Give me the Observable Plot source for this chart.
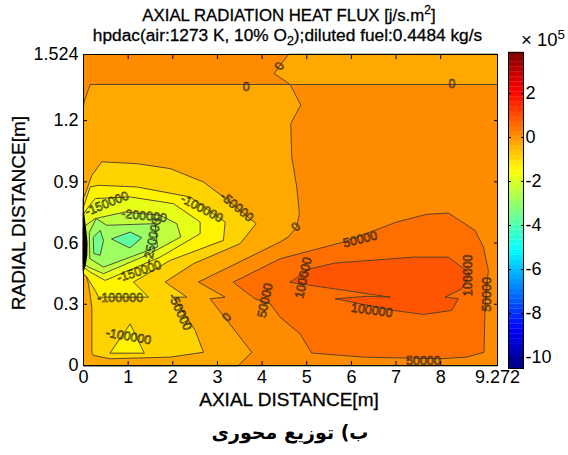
<!DOCTYPE html>
<html>
<head>
<meta charset="utf-8">
<script src="https://cdn.jsdelivr.net/npm/d3@7"></script>
<script src="https://cdn.jsdelivr.net/npm/@observablehq/plot@0.6"></script>
<style>
html,body{margin:0;padding:0;background:#fff;width:568px;height:455px;overflow:hidden}
#root{position:relative;width:568px;height:455px;font-family:"Liberation Sans",Arial,sans-serif;color:#000}
.t{position:absolute;white-space:nowrap;-webkit-text-stroke:.3px #000;line-height:1}
.t sup,.t sub{font-size:.72em;line-height:0}
#main,#bar{position:absolute}
#main{left:0;top:0}
#bar{left:507px;top:40px}
svg{display:block;background:transparent}
</style>
</head>
<body>
<div id="root">
  <div id="main"></div>
  <div id="bar"></div>
  <div class="t" style="left:0;width:578px;text-align:center;top:8px;font-size:16.8px">AXIAL RADIATION HEAT FLUX [j/s.m<sup>2</sup>]</div>
  <div class="t" style="left:0;width:575px;text-align:center;top:27px;font-size:17.3px">hpdac(air:1273 K, 10% O<sub>2</sub>);diluted fuel:0.4484 kg/s</div>
  <div class="t" style="left:521px;top:31px;font-size:18.5px;-webkit-text-stroke:0">× 10<sup>5</sup></div>
  <div class="t" style="left:289px;top:399px;font-size:19px;transform:translate(-50%,-50%)">AXIAL DISTANCE[m]</div>
  <div class="t" style="left:18px;top:213px;font-size:19px;transform:translate(-50%,-50%) rotate(-90deg)">RADIAL DISTANCE[m]</div>
  <div style="position:absolute;left:0;width:580px;text-align:center;top:421px;font:bold 19px 'DejaVu Sans';direction:rtl">ب) توزیع محوری</div>
</div>
<script>
// Axis ticks
const xTicks = [0, 1, 2, 3, 4, 5, 6, 7, 8, 9.272];
const yTicks = [0, 0.3, 0.6, 0.9, 1.2, 1.524];
const barTicks = [2, 0, -2, -4, -6, -8, -10];

// Colour range of the flux, in units of 10^5
const fluxMin = -10.5, fluxMax = 3.86;
const jetFractions = [0, 0.125, 0.375, 0.625, 0.875, 1];
const jetColors = ["#00007f", "#0000ff", "#00ffff", "#ffff00", "#ff0000", "#7f0000"];

// Contour bands: [axial m, radial m]
const bandTopRight = [[4.59,1.524],[4.269,1.431],[4.627,1.377],[9.272,1.377],[9.272,1.524]];
const bandMain = [[0,0],[0,1.267],[0.015,1.292],[0.149,1.377],[4.627,1.377],[4.866,1.276],[4.642,1.186],[4.664,1.022],[4.776,0.875],[4.836,0.744],[4.776,0.679],[4.59,0.63],[4.403,0.605],[2.575,0.409],[3.172,0.335],[2.836,0.327],[3.769,0.065],[3.47,0]];
const bandM100 = [[0,0.826],[0.015,0.826],[0.187,0.932],[0.41,0.998],[1.194,0.989],[1.94,0.965],[2.687,0.899],[3.134,0.826],[3.866,0.695],[3.507,0.597],[2.463,0.499],[1.828,0.409],[2.313,0.335],[2.015,0.335],[2.5,0.172],[2.687,0.065],[1.94,0.041],[0.597,0.033],[0.224,0.049],[0.187,0.065],[0.187,0.286],[0.112,0.401],[0.015,0.466],[0,0.466]];
const bandM150 = [[0,0.777],[0.075,0.826],[0.149,0.875],[0.336,0.883],[1.194,0.875],[2.388,0.826],[3.172,0.703],[3.134,0.613],[1.94,0.515],[1.119,0.409],[1.455,0.335],[0.336,0.335],[0.261,0.368],[0.075,0.433],[0,0.45]];
const bandM150b = [[0.597,0.062],[1.045,0.204],[1.358,0.062]];
const bandM200 = [[0,0.744],[0.112,0.777],[0.261,0.818],[1.045,0.826],[2.015,0.793],[2.612,0.703],[2.612,0.646],[1.716,0.531],[0.485,0.417],[0.149,0.458],[0,0.482]];
const bandM250 = [[0,0.679],[0.261,0.72],[0.933,0.752],[1.716,0.736],[2.09,0.695],[2.179,0.63],[1.493,0.548],[0.448,0.45],[0.112,0.482],[0,0.499]];
const bandM300 = [[0.134,0.654],[0.284,0.72],[0.522,0.687],[1.604,0.695],[1.657,0.581],[0.448,0.482],[0.149,0.523]];
const bandM350a = [[0.224,0.63],[0.373,0.662],[0.448,0.613],[0.373,0.54],[0.239,0.548]];
const bandM350b = [[0.634,0.621],[1.045,0.654],[1.306,0.626],[1.045,0.577]];
const bandP100 = [[3.358,0.409],[4.403,0.523],[5.821,0.605],[7.015,0.703],[7.687,0.741],[8.172,0.747],[8.769,0.662],[8.955,0.581],[9.067,0.466],[8.993,0.286],[8.97,0.065],[8.582,0.041],[7.985,0.033],[6.269,0.041],[5.112,0.061],[4.851,0.155],[4.403,0.237],[4.179,0.303],[3.843,0.327]];
const bandP150 = [[4.627,0.409],[5.075,0.474],[5.634,0.502],[7.388,0.531],[8.172,0.531],[8.657,0.45],[8.47,0.376],[8.097,0.335],[8.396,0.327],[8.246,0.27],[7.612,0.25],[6.94,0.27],[5.634,0.327],[6.343,0.339],[6.866,0.335]];
const wallPacked = [[0,0.78],[0.03,0.72],[0.075,0.64],[0.09,0.6],[0.085,0.54],[0.05,0.49],[0,0.46]];

// Flux shown by each band, in units of 10^5
const fullPlot = [[0,0],[0,1.524],[9.272,1.524],[9.272,0]];
const bandLevels = [
  [fullPlot, 0.1],
  [bandTopRight, -0.3], [bandMain, -0.3],
  [bandM100, -0.9], [bandM150, -1.35], [bandM150b, -1.35],
  [bandM200, -1.85], [bandM250, -2.4], [bandM300, -2.9],
  [bandM350a, -3.5], [bandM350b, -3.8],
  [bandP100, 0.5], [bandP150, 0.87]
];

// Contour labels
const labelTexts = ["0","0","0","0","0","-50000","-100000","-150000","-200000","-250000","-150000","-100000","-100000","-50000","50000","50000","100000","100000","100000","50000","50000"];
const labelX = [3.642,8.254,4.388,4.754,3.209,3.433,2.649,0.522,1.358,1.545,1.246,0.821,1.007,2.164,4.067,6.194,4.925,6.455,8.619,9.045,7.612];
const labelY = [1.365,1.377,1.467,0.679,0.237,0.777,0.769,0.793,0.733,0.613,0.461,0.332,0.142,0.262,0.319,0.618,0.43,0.27,0.442,0.348,0.02];
const labelAngle = [0,0,-60,-45,-45,40,28,-22,6,-78,-18,0,10,65,-78,-14,-78,8,-90,-90,0];
const labels = labelTexts.map((text, i) => ({text, x: labelX[i], y: labelY[i], angle: labelAngle[i]}));

const color = {
  type: "linear",
  domain: jetFractions.map(f => fluxMin + f * (fluxMax - fluxMin)),
  range: jetColors,
  interpolate: "rgb"
};

const contourStroke = "#4a3c30";
const blank = () => "";

const main = Plot.plot({
  width: 568, height: 455,
  marginLeft: 83, marginRight: 71, marginTop: 54, marginBottom: 90,
  style: {fontFamily: "'Liberation Sans',Arial,sans-serif", color: "#000", background: "transparent", overflow: "visible"},
  x: {domain: [0, 9.272]},
  y: {domain: [0, 1.524]},
  color,
  marks: [
    ...bandLevels.map(([pts, level]) => Plot.line(pts, {
      x: d => d[0], y: d => d[1], fill: () => level, z: null,
      stroke: contourStroke, strokeWidth: 0.9, curve: "linear-closed"
    })),
    Plot.line(wallPacked, {x: d => d[0], y: d => d[1], fill: "#000", stroke: "none", curve: "linear-closed"}),
    Plot.text(labels, {
      x: "x", y: "y", text: "text", rotate: "angle",
      fontSize: 12.5, fill: "none", stroke: "#2a1e14", strokeWidth: 0.6
    }),
    Plot.frame({stroke: "#000", strokeWidth: 1}),
    Plot.axisX({
      ticks: xTicks, tickFormat: d => String(d), tickSize: -4, tickPadding: 9,
      fontSize: 18, label: null
    }),
    Plot.axisX({anchor: "top", ticks: xTicks, tickFormat: blank, tickSize: -4, label: null}),
    Plot.axisY({
      ticks: yTicks, tickFormat: d => String(d), tickSize: -4, tickPadding: 9,
      fontSize: 18, label: null
    }),
    Plot.axisY({anchor: "right", ticks: yTicks, tickFormat: blank, tickSize: -4, label: null})
  ]
});
document.getElementById("main").append(main);

// Colour bar ramp
const rampStep = (fluxMax - fluxMin) / 64;
const ramp = d3.range(64).map(i => fluxMin + i * rampStep);

const bar = Plot.plot({
  width: 61, height: 340,
  marginLeft: 1, marginRight: 45, marginTop: 12, marginBottom: 12,
  style: {fontFamily: "'Liberation Sans',Arial,sans-serif", color: "#000", background: "transparent", overflow: "visible"},
  x: {domain: [0, 1], axis: null},
  y: {domain: [fluxMin, fluxMax], axis: null},
  color,
  marks: [
    Plot.rectY(ramp, {x1: 0, x2: 1, y1: d => d, y2: d => d + rampStep * 1.05, fill: d => d + rampStep / 2}),
    Plot.frame({stroke: "#000"}),
    Plot.axisY({anchor: "right", ticks: barTicks, tickFormat: d => String(d), tickSize: -3, tickPadding: 5, fontSize: 18, label: null}),
    Plot.axisY({anchor: "left", ticks: barTicks, tickFormat: blank, tickSize: -3, label: null})
  ]
});
document.getElementById("bar").append(bar);
</script>
</body>
</html>
